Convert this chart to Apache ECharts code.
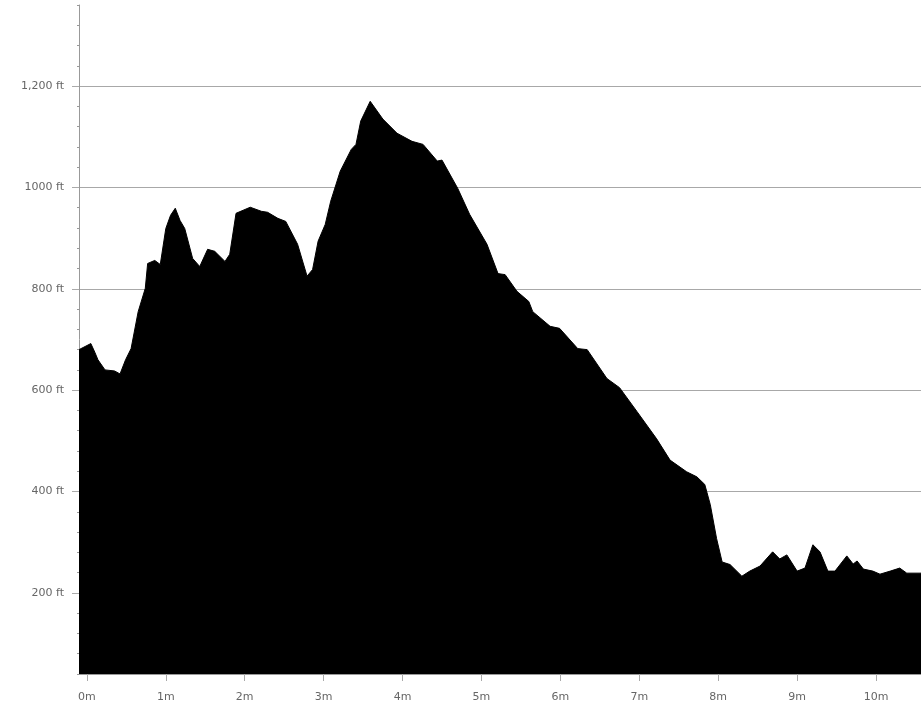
<!DOCTYPE html>
<html>
<head>
<meta charset="utf-8">
<script src="https://cdn.jsdelivr.net/npm/echarts@6/dist/echarts.min.js"></script>
<style>
html,body{margin:0;padding:0;background:#fff;}
#chart{width:921px;height:710px;}
</style>
</head>
<body>
<div id="chart"></div>
<script>
// Distance along route (miles)
var distanceMiles = [-0.1, 0.05, 0.1, 0.14, 0.23, 0.35, 0.42, 0.49, 0.56, 0.65, 0.74, 0.77, 0.86, 0.93, 1.00, 1.06, 1.12, 1.18, 1.24, 1.34, 1.43, 1.53, 1.62, 1.75, 1.81, 1.89, 2.07, 2.21, 2.29, 2.42, 2.52, 2.67, 2.79, 2.86, 2.93, 3.02, 3.09, 3.21, 3.35, 3.41, 3.47, 3.59, 3.75, 3.93, 4.12, 4.26, 4.44, 4.50, 4.70, 4.85, 5.07, 5.21, 5.30, 5.45, 5.60, 5.65, 5.87, 5.99, 6.22, 6.34, 6.59, 6.75, 6.97, 7.22, 7.39, 7.60, 7.73, 7.83, 7.90, 7.98, 8.05, 8.15, 8.30, 8.40, 8.53, 8.69, 8.78, 8.87, 9.00, 9.10, 9.20, 9.29, 9.39, 9.48, 9.63, 9.71, 9.76, 9.84, 9.96, 10.05, 10.18, 10.30, 10.39, 10.57];
// Elevation (feet)
var elevationFt = [680, 692, 675, 660, 640, 638, 632, 660, 682, 755, 801, 850, 856, 848, 919, 945, 959, 935, 919, 860, 844, 878, 874, 854, 868, 949, 961, 953, 951, 939, 933, 888, 825, 838, 894, 927, 973, 1032, 1075, 1085, 1131, 1170, 1135, 1107, 1091, 1085, 1052, 1054, 998, 947, 888, 830, 828, 795, 775, 755, 726, 722, 682, 680, 623, 605, 558, 504, 462, 439, 429, 414, 374, 307, 261, 256, 233, 243, 253, 281, 267, 275, 243, 249, 295, 281, 243, 243, 273, 257, 263, 247, 243, 237, 243, 249, 239, 239];
// Axis ticks / labels
var xTickMiles = [0, 1, 2, 3, 4, 5, 6, 7, 8, 9, 10];
var yTickValues = [200, 400, 600, 800, 1000, 1200];
var yTickLabels = ['200 ft', '400 ft', '600 ft', '800 ft', '1000 ft', '1,200 ft'];

var points = distanceMiles.map(function (d, i) { return [d, elevationFt[i]]; });
var labelFont = {fontFamily: 'DejaVu Sans', fontSize: 11, color: '#666'};

var chart = echarts.init(document.getElementById('chart'));
chart.setOption({
  animation: false,
  backgroundColor: '#fff',
  grid: {left: 79, right: 0, top: 5, bottom: 36, containLabel: false},
  xAxis: {
    type: 'value', min: -0.1, max: 10.57,
    axisLine: {show: true, onZero: false, lineStyle: {color: '#999', width: 1}},
    axisTick: {show: true, length: 7, customValues: xTickMiles, lineStyle: {color: '#aaa'}},
    axisLabel: Object.assign({customValues: xTickMiles, margin: 18, formatter: function (v) { return v + 'm'; }}, labelFont),
    splitLine: {show: false}
  },
  yAxis: [{
    type: 'value', min: 40, max: 1360, interval: 40,
    axisLine: {show: true, onZero: false, lineStyle: {color: '#999', width: 1}},
    axisTick: {show: true, length: 2, lineStyle: {color: '#999'}},
    axisLabel: {show: false},
    splitLine: {show: false}
  }, {
    type: 'value', min: 40, max: 1360, position: 'left',
    axisLine: {show: false, onZero: false},
    axisTick: {show: true, length: 7, customValues: yTickValues, lineStyle: {color: '#aaa'}},
    axisLabel: Object.assign({customValues: yTickValues, margin: 15, formatter: function (v) {
      var i = yTickValues.indexOf(v); return i >= 0 ? yTickLabels[i] : '';
    }}, labelFont),
    splitLine: {show: true, lineStyle: {color: '#a8a8a8', width: 1}}
  }],
  series: [{
    type: 'line', yAxisIndex: 0, data: points, showSymbol: false, smooth: false,
    lineStyle: {color: '#000', width: 1},
    areaStyle: {color: '#000', opacity: 1},
    z: 3
  }]
});
</script>
</body>
</html>
